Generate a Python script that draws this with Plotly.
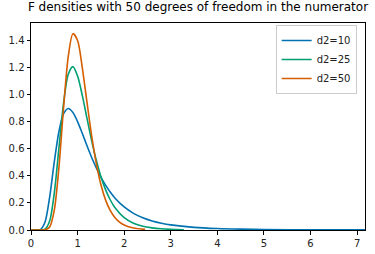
import plotly.graph_objects as go

# Values
x_d10 = [0.0, 0.1, 0.2, 0.3, 0.4, 0.5, 0.6, 0.7, 0.8, 0.9, 1.0, 1.1, 1.2, 1.3, 1.4, 1.5,
         1.6, 1.7, 1.8, 2.0, 2.2, 2.4, 2.6, 2.8, 3.0, 3.5, 4.0, 4.5, 5.0, 6.0, 7.17]
y_d10 = [0.0, 0.0, 0.0028, 0.0575, 0.2425, 0.504, 0.7295, 0.861, 0.900, 0.871, 0.803, 0.716,
         0.626, 0.539, 0.461, 0.391, 0.332, 0.281, 0.2375, 0.1706, 0.1235, 0.0904, 0.0668,
         0.0499, 0.0377, 0.0196, 0.0108, 0.0062, 0.0038, 0.0015, 0.0006]

x_d25 = [0.0, 0.1, 0.2, 0.3, 0.4, 0.5, 0.6, 0.7, 0.8, 0.9, 1.0, 1.1, 1.2, 1.3, 1.4, 1.5,
         1.6, 1.7, 1.8, 2.0, 2.2, 2.4, 2.6, 2.8, 3.0, 3.28]
y_d25 = [0.0, 0.0, 0.0, 0.0056, 0.067, 0.2727, 0.608, 0.941, 1.153, 1.210, 1.140, 0.999,
         0.830, 0.664, 0.518, 0.396, 0.299, 0.224, 0.1667, 0.0917, 0.0504, 0.0279, 0.0156,
         0.0089, 0.0051, 0.0024]

x_d50 = [0.0, 0.1, 0.2, 0.3, 0.4, 0.5, 0.6, 0.7, 0.8, 0.9, 1.0, 1.1, 1.2, 1.3, 1.4, 1.5,
         1.6, 1.7, 1.8, 1.9, 2.0, 2.2, 2.45]
y_d50 = [0.0, 0.0, 0.0, 0.0009, 0.022, 0.1476, 0.466, 0.909, 1.286, 1.454, 1.403, 1.205,
         0.950, 0.703, 0.4955, 0.337, 0.223, 0.145, 0.0928, 0.0587, 0.0369, 0.0144, 0.0044]

series_names = ["d2=10", "d2=25", "d2=50"]
series_colors = ["#0072B2", "#009E73", "#D55E00"]
x_ticks = [0, 1, 2, 3, 4, 5, 6, 7]
y_ticks = [0.0, 0.2, 0.4, 0.6, 0.8, 1.0, 1.2, 1.4]
title_text = "F densities with 50 degrees of freedom in the numerator"

fig = go.Figure()
for xs, ys, name, color in zip([x_d10, x_d25, x_d50], [y_d10, y_d25, y_d50],
                               series_names, series_colors):
    fig.add_trace(go.Scatter(x=xs, y=ys, mode="lines", name=name,
                             line=dict(color=color, width=1.6, shape="spline", smoothing=0.8)))

axis_common = dict(showline=True, linecolor="black", linewidth=1, mirror=True,
                   ticks="outside", ticklen=3.5, tickcolor="black", showgrid=False,
                   zeroline=False, automargin=False,
                   tickfont=dict(family="DejaVu Sans", size=10, color="#222"))

fig.update_layout(
    width=375, height=254,
    margin=dict(l=31, r=10, t=23, b=24),
    paper_bgcolor="white", plot_bgcolor="white",
    title=dict(text=title_text, x=0.5, xref="paper", xanchor="center",
               y=1, yref="container", yanchor="top", pad=dict(t=3),
               font=dict(family="DejaVu Sans", size=12, color="black"),
               automargin=False),
    legend=dict(x=0.975, y=0.99, xanchor="right", yanchor="top",
                bordercolor="#cccccc", borderwidth=1, bgcolor="rgba(255,255,255,0.8)",
                font=dict(family="DejaVu Sans", size=10, color="#222"),
                tracegroupgap=0, itemwidth=30),
    showlegend=True,
)
fig.update_xaxes(range=[0, 7.17], tickvals=x_ticks, ticktext=[str(t) for t in x_ticks], **axis_common)
fig.update_yaxes(range=[0, 1.533], tickvals=y_ticks, ticktext=[f"{t:.1f}" for t in y_ticks], **axis_common)

fig.write_html("out.html")
